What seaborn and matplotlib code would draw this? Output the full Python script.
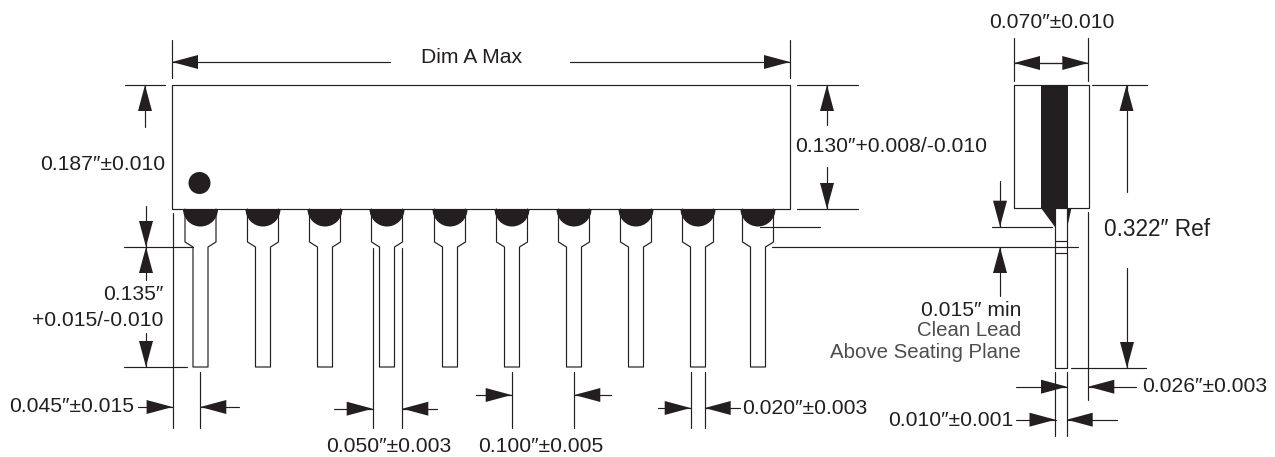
import matplotlib
matplotlib.use('Agg')
import matplotlib.pyplot as plt
from matplotlib.patches import Wedge, Circle, Rectangle
import pandas as pd
import seaborn as sns

INK = '#231f20'
GREY_TEXT = '#4d4d4f'

# Package dimensions (pixels of the sheet)
pin_centers = [200.5, 263, 325, 387, 450, 512, 574, 636, 698, 758]
body_left, body_right, body_top, body_bottom = 172, 790, 85, 209
lead_bottom = 367
shoulder_half, lead_half = 15.5, 7.5
shoulder_y, neck_y = 242, 247
pad_radius = 17.5

side_left, side_right, side_bottom = 1014, 1088.5, 208
band_left, band_right = 1041, 1068
side_lead_left, side_lead_right = 1055, 1067.3
clean_marks = [240.5, 252.5]

# Plain lines: (x0, y0, x1, y1)
extension_lines = [
    (172, 40, 172, 78), (790, 40, 790, 78),
    (125, 85, 165, 85), (124, 247, 193, 247), (124, 367, 187, 367),
    (172.6, 213, 172.6, 428), (200.3, 372, 200.3, 428),
    (372.7, 248, 372.7, 428), (402.3, 248, 402.3, 428),
    (511.7, 372, 511.7, 428), (574.3, 372, 574.3, 428),
    (690.7, 372, 690.7, 428), (704.7, 372, 704.7, 428),
    (797, 85, 858, 85), (797, 209, 858, 209),
    (760, 226.7, 820, 226.7), (772, 246.7, 1078, 246.7),
    (992, 226.7, 1052, 226.7),
    (1013.7, 38, 1013.7, 81), (1088.3, 38, 1088.3, 81),
    (1092, 85, 1147, 85), (1071, 368, 1146, 368),
    (1088.3, 212, 1088.3, 400),
    (1055, 372, 1055, 436), (1067, 372, 1067, 436),
]

# Arrows: (tip x, tip y, tail x, tail y), the head is drawn at the tip
arrows = [
    (172, 62, 390, 62), (790, 62, 570, 62),
    (145, 85, 145, 127), (146, 247, 146, 206), (146, 247, 146, 280), (146, 367, 146, 333),
    (172.6, 407, 138, 407), (200.3, 407, 239, 407),
    (372.7, 408.7, 334, 408.7), (402.3, 408.7, 437, 408.7),
    (511.7, 395, 476, 395), (574.3, 395, 611, 395),
    (690.7, 408, 658, 408), (704.7, 408, 740, 408),
    (827, 85, 827, 125), (827, 209, 827, 167),
    (1000, 226.7, 1000, 181), (1000, 247, 1000, 296),
    (1014, 63, 1062, 63), (1088.3, 63, 1039, 63),
    (1126.5, 85, 1126.5, 192), (1127, 368, 1127, 268),
    (1067, 386.7, 1016, 386.7), (1088.3, 386.7, 1136, 386.7),
    (1055.5, 419.7, 1016, 419.7), (1066.7, 419.7, 1117, 419.7),
]

# Labels: (text, x, y, horizontal alignment, size)
labels = [
    ('Dim A Max', 472, 57.5, 'center', 15.2),
    ('0.187\u2033\u00b10.010', 165, 165, 'right', 15.2),
    ('0.130\u2033+0.008/-0.010', 987, 146, 'right', 15.2),
    ('0.135\u2033', 163, 295, 'right', 15.2),
    ('+0.015/-0.010', 163, 320, 'right', 15.2),
    ('0.045\u2033\u00b10.015', 134, 407, 'right', 15.2),
    ('0.050\u2033\u00b10.003', 389, 446.5, 'center', 15.2),
    ('0.100\u2033\u00b10.005', 541, 446.5, 'center', 15.2),
    ('0.020\u2033\u00b10.003', 742, 408, 'left', 15.2),
    ('0.070\u2033\u00b10.010', 1052, 22.5, 'center', 15.2),
    ('0.322\u2033 Ref', 1104, 230, 'left', 16.3),
    ('0.015\u2033 min', 1021, 310, 'right', 15.2),
    ('Clean Lead', 1021, 330.5, 'right', 14.7),
    ('Above Seating Plane', 1021, 352, 'right', 14.7),
    ('0.026\u2033\u00b10.003', 1142, 387, 'left', 15.2),
    ('0.010\u2033\u00b10.001', 1013, 420, 'right', 15.2),
]
grey_labels = ['Clean Lead', 'Above Seating Plane']

head_len, head_half = 26, 7

# Collect every outline as a polyline, seaborn draws them as units
polylines = []
polylines.append([(body_left, body_bottom), (body_left, body_top), (body_right, body_top),
                  (body_right, body_bottom), (body_left, body_bottom)])
for c in pin_centers:
    polylines.append([
        (c - shoulder_half, body_bottom), (c - shoulder_half, shoulder_y),
        (c - lead_half, neck_y), (c - lead_half, lead_bottom),
        (c + lead_half, lead_bottom), (c + lead_half, neck_y),
        (c + shoulder_half, shoulder_y), (c + shoulder_half, body_bottom),
    ])
polylines.append([(side_left, side_bottom), (side_left, body_top), (side_right, body_top),
                  (side_right, side_bottom), (side_left, side_bottom)])
polylines.append([(side_lead_left, side_bottom), (side_lead_left, 368),
                  (side_lead_right, 368), (side_lead_right, side_bottom)])
for y in clean_marks:
    polylines.append([(side_lead_left, y), (side_lead_right, y)])
for x0, y0, x1, y1 in extension_lines:
    polylines.append([(x0, y0), (x1, y1)])
for tx, ty, sx, sy in arrows:
    polylines.append([(tx, ty), (sx, sy)])

rows = []
for seg, line in enumerate(polylines):
    for x, y in line:
        rows.append({'seg': seg, 'x': x, 'y': y})
df = pd.DataFrame(rows)

sns.set_theme(style='white')
plt.rcParams['font.family'] = ['Liberation Sans', 'DejaVu Sans']

fig = plt.figure(figsize=(12.75, 4.57), dpi=100)
ax = fig.add_axes([0, 0, 1, 1])

sns.lineplot(data=df, x='x', y='y', units='seg', estimator=None, sort=False,
             color=INK, linewidth=0.85, legend=False, ax=ax)

# Solder pads and the pin one dot
for c in pin_centers:
    ax.add_patch(Wedge((c, body_bottom), pad_radius, 0, 180, color=INK, lw=0))
ax.add_patch(Circle((199.5, 183), 11, color=INK, lw=0))

# Dark band on the side view and its taper into the lead
ax.add_patch(Rectangle((band_left, body_top), band_right - band_left, side_bottom - body_top,
                       color=INK, lw=0))
ax.fill([band_left, side_lead_left, side_lead_left], [side_bottom, 227, side_bottom], color=INK, lw=0)
ax.fill([side_lead_right, 1071.5, side_lead_right], [side_bottom, side_bottom, 227], color=INK, lw=0)

# Arrow heads
for tx, ty, sx, sy in arrows:
    if ty == sy:
        d = 1 if sx > tx else -1
        ax.fill([tx, tx + d * head_len, tx + d * head_len],
                [ty, ty - head_half, ty + head_half], color=INK, lw=0)
    else:
        d = 1 if sy > ty else -1
        ax.fill([tx - head_half, tx + head_half, tx],
                [ty + d * head_len, ty + d * head_len, ty], color=INK, lw=0)

for text, x, y, ha, size in labels:
    colour = GREY_TEXT if text in grey_labels else INK
    ax.text(x, y, text, ha=ha, va='center', fontsize=size, color=colour)

ax.set_xlim(0, 1275)
ax.set_ylim(457, 0)
ax.axis('off')

fig.savefig('out.png', dpi=100)
